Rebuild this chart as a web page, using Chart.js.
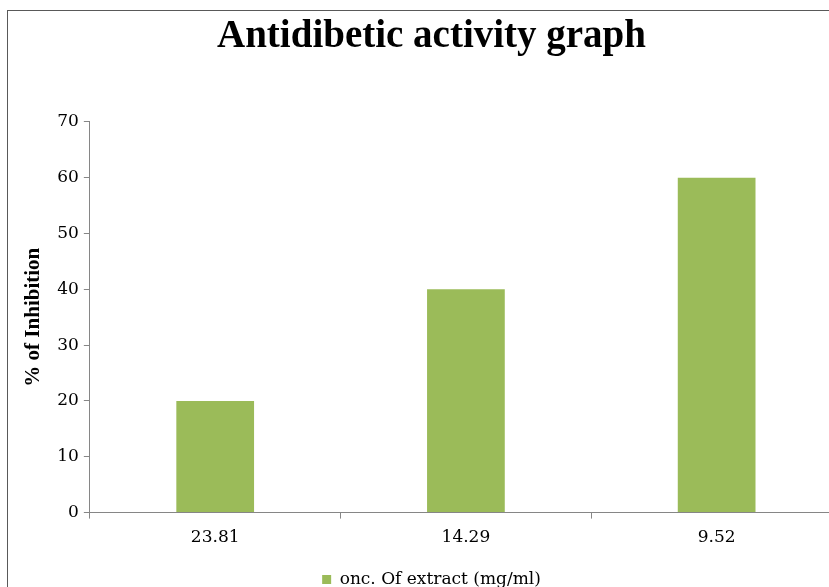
<!DOCTYPE html>
<html>
<head>
<meta charset="utf-8">
<script src="https://cdn.jsdelivr.net/npm/chart.js@4.4.0/dist/chart.umd.min.js"></script>
<style>
  html, body { margin: 0; padding: 0; background: #fff; overflow: hidden; }
  #wrap { position: relative; width: 829px; height: 587px; overflow: hidden; }
  #box { position: absolute; left: 0; top: 0; width: 858px; height: 598px; }
  #frame { position: absolute; left: 7px; top: 10px; width: 900px; height: 700px;
           border-top: 1px solid #595959; border-left: 1px solid #595959; pointer-events: none; }
</style>
</head>
<body>
<div id="wrap">
  <div id="box"><canvas id="myChart"></canvas></div>
  <div id="frame"></div>
</div>
<script>
const categories = ['23.81', '14.29', '9.52'];
const inhibition = [20, 40, 60];
const seriesName = 'onc. Of extract (mg/ml)';

const axisGray = '#868686';

var ctx = document.getElementById('myChart').getContext('2d');

var myChart = new Chart(ctx, {
    type: 'bar',
    data: {
        labels: categories,
        datasets: [
            {
                label: seriesName,
                data: inhibition,
                backgroundColor: '#9BBB59',
                borderWidth: 0,
                barPercentage: 0.31,
                categoryPercentage: 1
            }
        ]
    },
    options: {
        responsive: true,
        maintainAspectRatio: false,
        animation: false,
        layout: { padding: { left: 21, right: 16, top: 6, bottom: 0 } },
        plugins: {
            title: {
                display: true,
                text: 'Antidibetic activity graph',
                color: '#000',
                font: { family: 'Liberation Serif', size: 39, weight: 'bold' },
                padding: { top: 8, bottom: 61 }
            },
            legend: {
                position: 'bottom',
                labels: {
                    color: '#000',
                    boxWidth: 9,
                    boxHeight: 9,
                    padding: 14,
                    font: { family: 'DejaVu Serif', size: 17 }
                }
            },
            tooltip: { enabled: false }
        },
        scales: {
            x: {
                offset: true,
                border: { color: axisGray, width: 1 },
                grid: { offset: true, drawOnChartArea: false, color: axisGray, tickLength: 6 },
                ticks: { color: '#000', padding: 9, font: { family: 'DejaVu Serif', size: 17 } }
            },
            y: {
                min: 0,
                max: 70,
                border: { color: axisGray, width: 1 },
                grid: { drawOnChartArea: false, color: axisGray, tickLength: 6 },
                ticks: { stepSize: 10, color: '#000', padding: 5, font: { family: 'DejaVu Serif', size: 17 } },
                title: {
                    display: true,
                    text: '% of Inhibition',
                    color: '#000',
                    padding: { top: 0, bottom: 6 },
                    font: { family: 'Liberation Serif', size: 21, weight: 'bold' }
                }
            }
        }
    }
});
</script>
</body>
</html>
